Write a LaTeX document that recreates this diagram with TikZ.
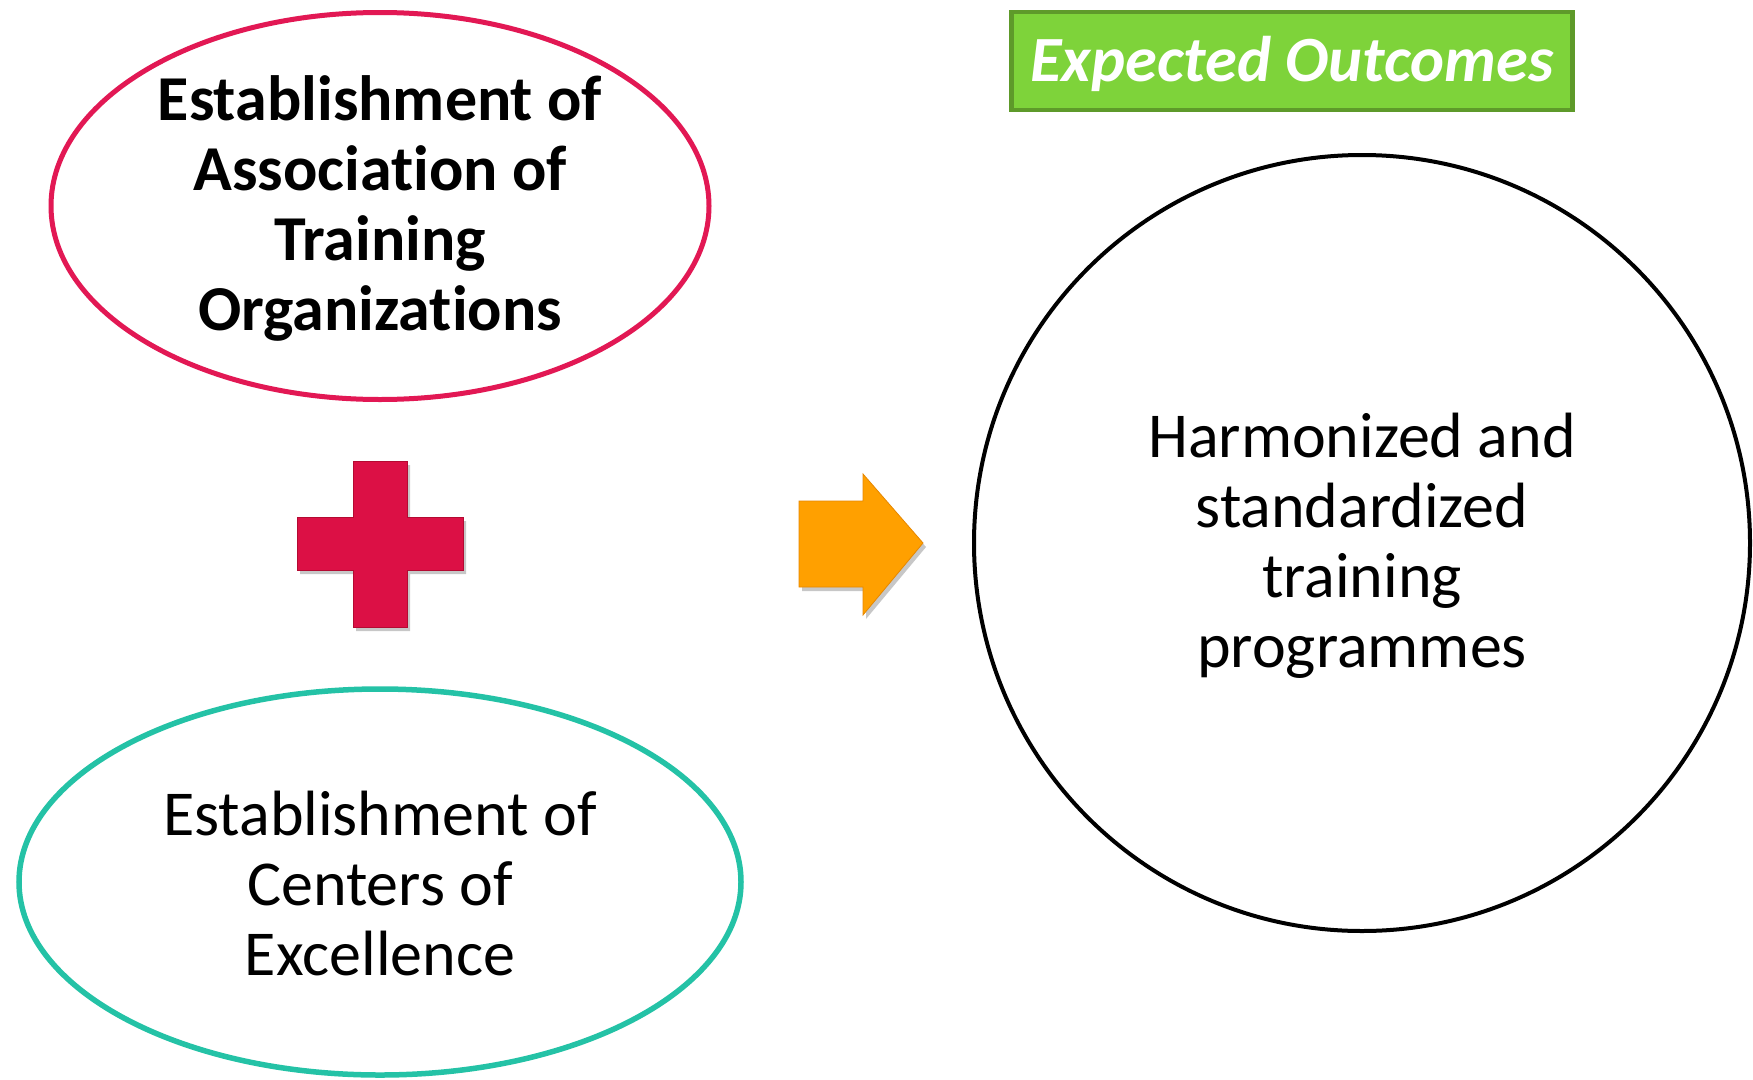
\documentclass[tikz,border=0pt]{standalone}
\usepackage{fontspec}
\setmainfont{Carlito}[Ligatures=NoCommon]
\usetikzlibrary{shapes.geometric}
\definecolor{pinkred}{RGB}{226,24,84}
\definecolor{tealc}{RGB}{36,194,166}
\definecolor{crossred}{RGB}{220,16,69}
\definecolor{crossedge}{RGB}{180,10,50}
\definecolor{arroworange}{RGB}{255,160,0}
\definecolor{arrowedge}{RGB}{230,135,0}
\definecolor{boxgreen}{RGB}{126,211,58}
\definecolor{boxborder}{RGB}{94,154,42}
\begin{document}
\begin{tikzpicture}[x=1pt,y=-1pt,
  bigtext/.style={font=\fontsize{64}{70}\selectfont, align=center, inner sep=0pt},
  oval/.style={ellipse, inner sep=0pt, fill=white},
  shadowfill/.style={fill=black, opacity=0.22}]
\useasboundingbox (0,0) rectangle (1753,1079);
\fill[white] (0,0) rectangle (1753,1079);

% top ellipse
\node[oval, draw=pinkred, line width=5pt, minimum width=658pt, minimum height=387pt] (top) at (380,206) {};
\node[bigtext, font=\fontsize{64}{70}\selectfont\bfseries, yshift=-2.5pt] (toptext) at (top.center) {Establishment of\\Association of\\Training\\Organizations};

% bottom ellipse
\node[oval, draw=tealc, line width=5.5pt, minimum width=722pt, minimum height=386pt] (bot) at (380,882) {};
\node[bigtext, yshift=-1pt] (bottext) at (bot.center) {Establishment of\\Centers of\\Excellence};

% plus sign (shadow + shape)
\fill[shadowfill] (356,465) -- (410,465) -- (410,521) -- (466,521) -- (466,574) -- (410,574) -- (410,631) -- (356,631) -- (356,574) -- (300,574) -- (300,521) -- (356,521) -- cycle;
\filldraw[fill=crossred, draw=crossedge, line width=0.8pt] (353,461) -- (407,461) -- (407,517) -- (463,517) -- (463,570) -- (407,570) -- (407,627) -- (353,627) -- (353,570) -- (297,570) -- (297,517) -- (353,517) -- cycle;
\coordinate (plus) at (380,544);

% arrow (shadow + shape)
\fill[shadowfill] (802,505) -- (866,505) -- (866,478) -- (926,547) -- (866,619) -- (866,591) -- (802,591) -- cycle;
\filldraw[fill=arroworange, draw=arrowedge, line width=0.8pt] (799,501) -- (863,501) -- (863,474) -- (923,543) -- (863,615) -- (863,587) -- (799,587) -- cycle;
\coordinate (arrow) at (861,544);

% circle
\node[circle, draw=black, line width=4pt, minimum size=776pt, inner sep=0pt] (out) at (1362,543) {};
\node[bigtext, yshift=-2.5pt] (outtext) at (out.center) {Harmonized and\\standardized\\training\\programmes};

% header box
\node[draw=boxborder, fill=boxgreen, line width=4.5pt, minimum width=561pt, minimum height=98pt, inner sep=0pt] (eo) at (1292,61) {};
\node[text=white, inner sep=0pt, font=\fontsize{64.5}{74}\selectfont\bfseries\itshape, yshift=-3pt] (eotext) at (eo.center) {Expected Outcomes};
\end{tikzpicture}
\end{document}
